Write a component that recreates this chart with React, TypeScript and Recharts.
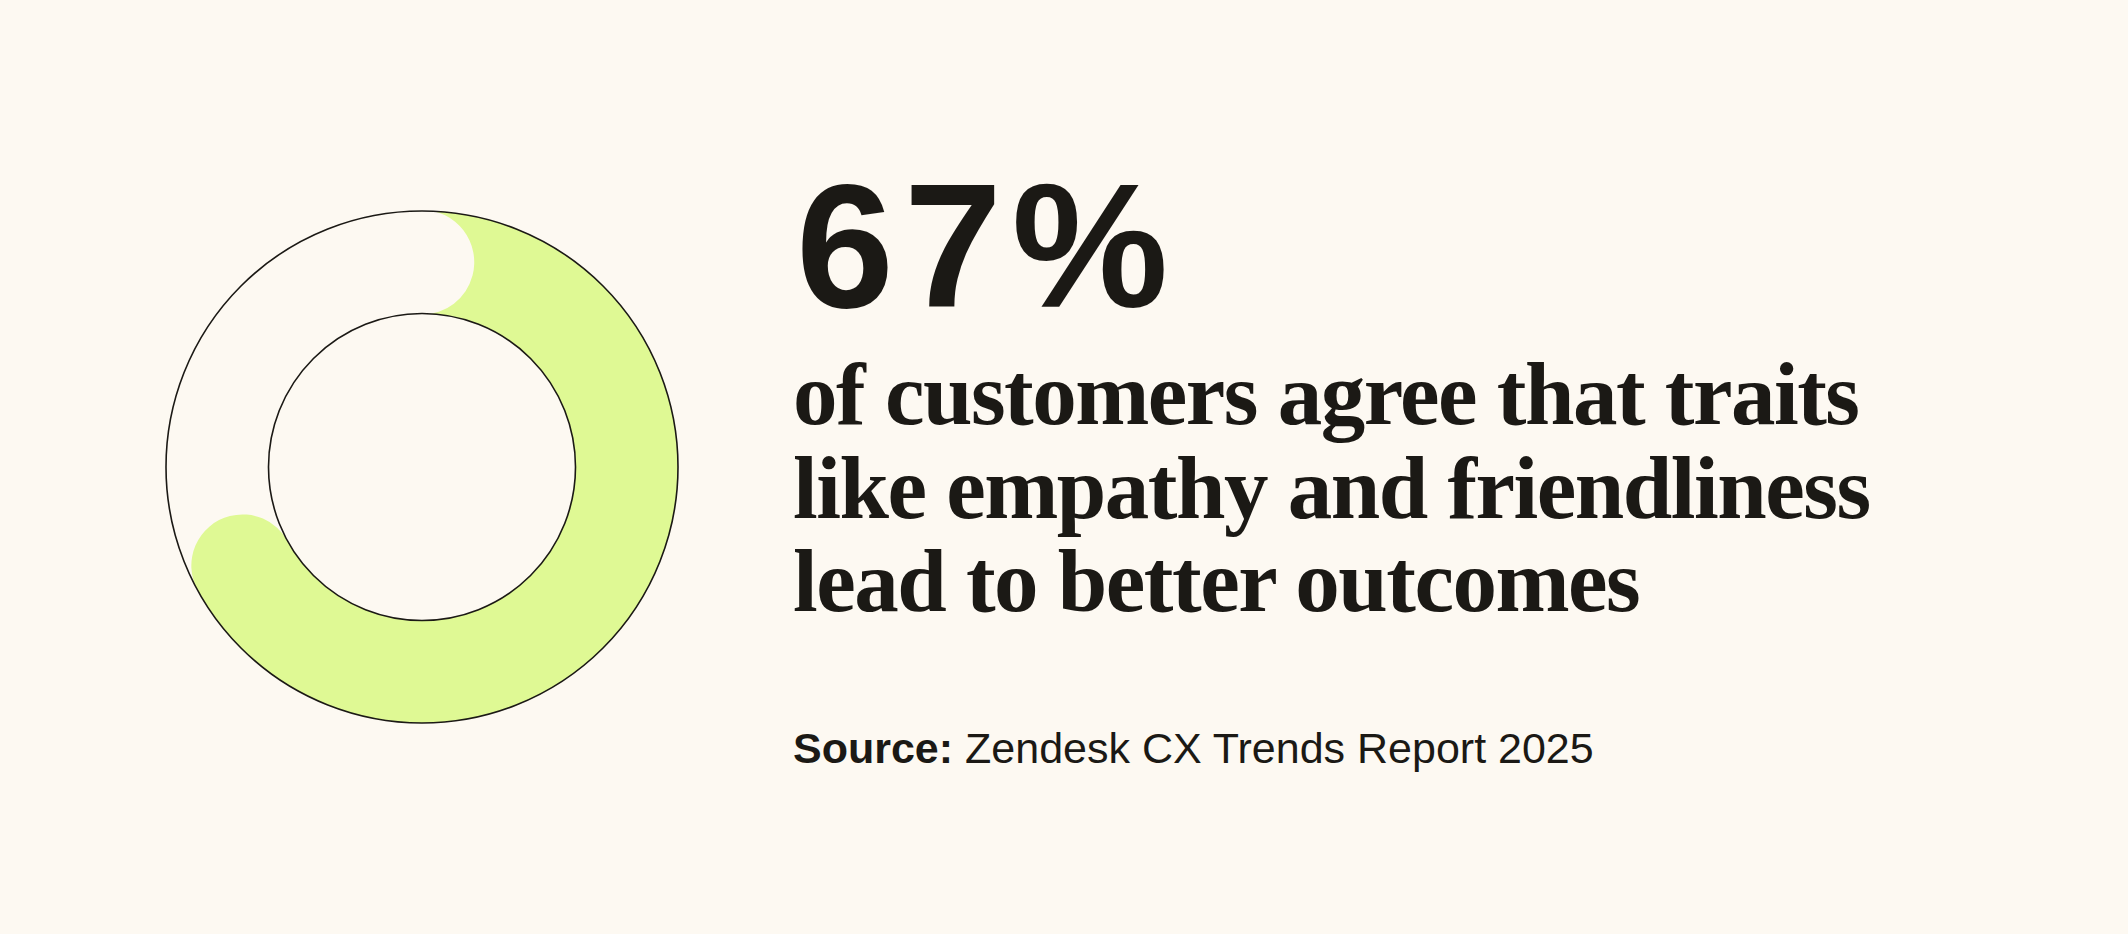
import { PieChart, Pie, Cell, PolarGrid } from "recharts";

// share of customers (percent)
const SHARE_LABELS = ["agree", "rest"];
const SHARE_VALUES = [67, 33];

const HEADLINE = "67%";
const BODY_LINES = [
  "of customers agree that traits",
  "like empathy and friendliness",
  "lead to better outcomes",
];
const SOURCE_LABEL = "Source:";
const SOURCE_TEXT = "Zendesk CX Trends Report 2025";

const BG = "#fdf9f2";
const GREEN = "#dff994";
const INK = "#1b1915";

const CX = 422;
const CY = 467;
const INNER = 153.5;
const OUTER = 256;
const CAP = (OUTER - INNER) / 2;
const SIZE = 560;
// the mask ring only needs to reach from past the green end cap up to the top
const MASK_SWEEP = 260;

const shareData = SHARE_LABELS.map((name, i) => ({ name, value: SHARE_VALUES[i] }));

export default function App() {
  return (
    <div
      style={{
        position: "relative",
        width: 2128,
        height: 934,
        background: BG,
        overflow: "hidden",
        color: INK,
      }}
    >
      <style>{`body{margin:0;background:${BG}}`}</style>

      <div style={{ position: "absolute", left: CX - SIZE / 2, top: CY - SIZE / 2 }}>
        <PieChart width={SIZE} height={SIZE} margin={{ top: 0, right: 0, bottom: 0, left: 0 }}>
          {/* green arc, round end cap */}
          <Pie
            data={shareData}
            dataKey="value"
            nameKey="name"
            cx="50%"
            cy="50%"
            startAngle={90}
            endAngle={-270}
            innerRadius={INNER}
            outerRadius={OUTER}
            cornerRadius={CAP}
            stroke="none"
            isAnimationActive={false}
          >
            <Cell fill={GREEN} cornerIsExternal />
            <Cell fill="none" />
          </Pie>
          {/* empty track in page colour, its round end bites into the start of the arc */}
          <Pie
            data={shareData}
            dataKey="value"
            nameKey="name"
            cx="50%"
            cy="50%"
            startAngle={-270 + MASK_SWEEP}
            endAngle={-270}
            innerRadius={INNER - 1}
            outerRadius={OUTER + 1}
            cornerRadius={CAP + 1}
            stroke="none"
            isAnimationActive={false}
          >
            <Cell fill="none" />
            <Cell fill={BG} cornerIsExternal />
          </Pie>
          <PolarGrid
            gridType="circle"
            radialLines={false}
            polarAngles={[]}
            polarRadius={[INNER, OUTER]}
            stroke={INK}
            strokeWidth={1.6}
            zIndex={1000}
          />
        </PieChart>
      </div>

      <div
        style={{
          position: "absolute",
          left: 796,
          top: 158,
          fontFamily: "'Liberation Sans', Arial, sans-serif",
          fontWeight: 700,
          fontSize: 176,
          lineHeight: "176px",
          letterSpacing: 10,
          whiteSpace: "nowrap",
        }}
      >
        {HEADLINE}
      </div>

      <div
        style={{
          position: "absolute",
          left: 793,
          top: 348,
          fontFamily: "'Liberation Serif', 'Times New Roman', serif",
          fontWeight: 700,
          fontSize: 89,
          lineHeight: "93.5px",
          letterSpacing: -1.5,
          whiteSpace: "nowrap",
        }}
      >
        {BODY_LINES.map((line) => (
          <div key={line}>{line}</div>
        ))}
      </div>

      <div
        style={{
          position: "absolute",
          left: 793,
          top: 727,
          fontFamily: "'Liberation Sans', Arial, sans-serif",
          fontSize: 43,
          lineHeight: "43px",
          whiteSpace: "nowrap",
        }}
      >
        <span style={{ fontWeight: 700 }}>{SOURCE_LABEL}</span> {SOURCE_TEXT}
      </div>
    </div>
  );
}
